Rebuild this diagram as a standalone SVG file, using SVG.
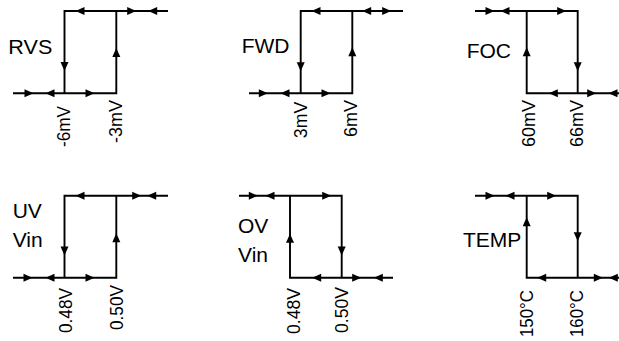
<svg xmlns="http://www.w3.org/2000/svg" xmlns:xlink="http://www.w3.org/1999/xlink" width="619" height="341" viewBox="0 0 619 341">
<style>
.ln{fill:none;stroke:#000;stroke-width:1.9}
.t{font-family:"Liberation Sans",Arial,sans-serif;font-size:21px;fill:#000}
.l{font-family:"Liberation Sans",Arial,sans-serif;font-size:18px;fill:#000;text-anchor:end}
</style>
<defs>
<path id="ar" d="M4.5,0 L-4.5,-4 L-4.5,4 Z" fill="#000"/>
</defs>
<rect width="619" height="341" fill="#fff"/>
<g id="connectors">
<path class="ln" d="M13,93.3 H116.3 V11 H168 M64.5,93.3 V11 H116.3"/>
<path class="ln" d="M249,93.3 H352.3 V11 H403 M300.7,93.3 V11 H352.3"/>
<path class="ln" d="M475,11 H577.7 V93.3 H620 M526.7,11 V93.3 H577.7"/>
<path class="ln" d="M13,277.7 H116.3 V195.7 H168 M64.5,277.7 V195.7 H116.3"/>
<path class="ln" d="M239,195.7 H341.7 V277.7 H393 M290,195.7 V277.7 H341.7"/>
<path class="ln" d="M475,195.7 H577.7 V277.7 H620 M526.7,195.7 V277.7 H577.7"/>
<use xlink:href="#ar" transform="translate(29,93.3)"/>
<use xlink:href="#ar" transform="translate(50,93.3) rotate(180)"/>
<use xlink:href="#ar" transform="translate(90,93.3)"/>
<use xlink:href="#ar" transform="translate(80,11) rotate(180)"/>
<use xlink:href="#ar" transform="translate(131.7,11)"/>
<use xlink:href="#ar" transform="translate(152.7,11) rotate(180)"/>
<use xlink:href="#ar" transform="translate(64.5,66.5) rotate(90)"/>
<use xlink:href="#ar" transform="translate(116.3,52.5) rotate(-90)"/>
<use xlink:href="#ar" transform="translate(263.3,93.3)"/>
<use xlink:href="#ar" transform="translate(285,93.3) rotate(180)"/>
<use xlink:href="#ar" transform="translate(326,93.3)"/>
<use xlink:href="#ar" transform="translate(316,11) rotate(180)"/>
<use xlink:href="#ar" transform="translate(366.7,11) rotate(180)"/>
<use xlink:href="#ar" transform="translate(386.7,11)"/>
<use xlink:href="#ar" transform="translate(300.7,66.7) rotate(90)"/>
<use xlink:href="#ar" transform="translate(352.3,51.7) rotate(-90)"/>
<use xlink:href="#ar" transform="translate(490,11)"/>
<use xlink:href="#ar" transform="translate(505,11) rotate(180)"/>
<use xlink:href="#ar" transform="translate(561.7,11)"/>
<use xlink:href="#ar" transform="translate(553.3,93.3) rotate(180)"/>
<use xlink:href="#ar" transform="translate(591.7,93.3)"/>
<use xlink:href="#ar" transform="translate(613,93.3) rotate(180)"/>
<use xlink:href="#ar" transform="translate(526.7,51.7) rotate(-90)"/>
<use xlink:href="#ar" transform="translate(577.7,66.7) rotate(90)"/>
<use xlink:href="#ar" transform="translate(28,277.7)"/>
<use xlink:href="#ar" transform="translate(50,277.7) rotate(180)"/>
<use xlink:href="#ar" transform="translate(90,277.7)"/>
<use xlink:href="#ar" transform="translate(80,195.7) rotate(180)"/>
<use xlink:href="#ar" transform="translate(136.7,195.7)"/>
<use xlink:href="#ar" transform="translate(151.7,195.7) rotate(180)"/>
<use xlink:href="#ar" transform="translate(64.5,251) rotate(90)"/>
<use xlink:href="#ar" transform="translate(116.3,237.7) rotate(-90)"/>
<use xlink:href="#ar" transform="translate(253.3,195.7)"/>
<use xlink:href="#ar" transform="translate(270,195.7) rotate(180)"/>
<use xlink:href="#ar" transform="translate(326.7,195.7)"/>
<use xlink:href="#ar" transform="translate(316.7,277.7) rotate(180)"/>
<use xlink:href="#ar" transform="translate(356.7,277.7)"/>
<use xlink:href="#ar" transform="translate(378.3,277.7) rotate(180)"/>
<use xlink:href="#ar" transform="translate(290,238.3) rotate(-90)"/>
<use xlink:href="#ar" transform="translate(341.7,251) rotate(90)"/>
<use xlink:href="#ar" transform="translate(490,195.7)"/>
<use xlink:href="#ar" transform="translate(510,195.7) rotate(180)"/>
<use xlink:href="#ar" transform="translate(551.7,195.7)"/>
<use xlink:href="#ar" transform="translate(541.7,277.7) rotate(180)"/>
<use xlink:href="#ar" transform="translate(598.3,277.7)"/>
<use xlink:href="#ar" transform="translate(613.3,277.7) rotate(180)"/>
<use xlink:href="#ar" transform="translate(526.7,221.7) rotate(-90)"/>
<use xlink:href="#ar" transform="translate(577.7,236.7) rotate(90)"/>
</g>
<g id="rvs">
<text class="t" x="8.3" y="54" textLength="44" lengthAdjust="spacingAndGlyphs">RVS</text>
<text class="l" transform="translate(70,106) rotate(-90)" textLength="41" lengthAdjust="spacingAndGlyphs">-6mV</text>
<text class="l" transform="translate(121.7,100) rotate(-90)" textLength="43" lengthAdjust="spacingAndGlyphs">-3mV</text>
</g>
<g id="fwd">
<text class="t" x="241.7" y="53">FWD</text>
<text class="l" transform="translate(306.7,101.7) rotate(-90)" textLength="36.5" lengthAdjust="spacingAndGlyphs">3mV</text>
<text class="l" transform="translate(357,100) rotate(-90)" textLength="37" lengthAdjust="spacingAndGlyphs">6mV</text>
</g>
<g id="foc">
<text class="t" x="466.7" y="58">FOC</text>
<text class="l" transform="translate(535,100) rotate(-90)" textLength="47" lengthAdjust="spacingAndGlyphs">60mV</text>
<text class="l" transform="translate(583,100) rotate(-90)" textLength="47" lengthAdjust="spacingAndGlyphs">66mV</text>
</g>
<g id="uv">
<text class="t" x="12.7" y="218">UV</text>
<text class="t" x="12.7" y="247">Vin</text>
<text class="l" transform="translate(72,288) rotate(-90)" textLength="45" lengthAdjust="spacingAndGlyphs">0.48V</text>
<text class="l" transform="translate(123,285) rotate(-90)" textLength="45" lengthAdjust="spacingAndGlyphs">0.50V</text>
</g>
<g id="ov">
<text class="t" x="238" y="233">OV</text>
<text class="t" x="238" y="262">Vin</text>
<text class="l" transform="translate(300,288) rotate(-90)" textLength="46" lengthAdjust="spacingAndGlyphs">0.48V</text>
<text class="l" transform="translate(348,287) rotate(-90)" textLength="46" lengthAdjust="spacingAndGlyphs">0.50V</text>
</g>
<g id="temp">
<text class="t" x="463" y="246.7">TEMP</text>
<text class="l" transform="translate(533,290) rotate(-90)" textLength="47" lengthAdjust="spacingAndGlyphs">150°C</text>
<text class="l" transform="translate(583,290) rotate(-90)" textLength="47" lengthAdjust="spacingAndGlyphs">160°C</text>
</g>
</svg>
